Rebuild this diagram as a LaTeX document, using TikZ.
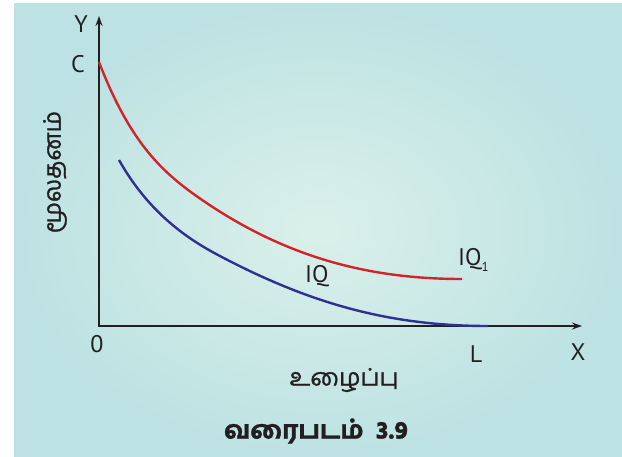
\documentclass[tikz,border=0pt]{standalone}
\usepackage{fontspec}
\setmainfont{PT Sans}
\newfontfamily\tamil[Script=Tamil,FakeBold=1.2]{Hind Madurai}
\newfontfamily\tamilb[Script=Tamil,FakeBold=1]{Hind Madurai Bold}
\usetikzlibrary{arrows.meta}
\definecolor{panelout}{HTML}{BDE2E3}
\definecolor{panelin}{HTML}{DAF0EA}
\definecolor{axisc}{HTML}{231F20}
\definecolor{redc}{HTML}{D2232A}
\definecolor{bluec}{HTML}{2E3192}
\begin{document}
\begin{tikzpicture}[x=1pt,y=-1pt,
  axis/.style={draw=axisc,line width=2.4pt,line join=miter,{Stealth[length=10pt,width=7pt]}-{Stealth[length=10pt,width=7pt]}},
  curve/.style={line width=2.4pt},
  lbl/.style={font=\fontsize{24}{28}\selectfont,text=axisc,inner sep=0pt},
  tlbl/.style={font=\tamil\fontsize{24}{28}\selectfont,text=axisc,inner sep=0pt},
  figcap/.style={font=\tamilb\fontsize{25}{29}\selectfont,text=axisc,inner sep=0pt}]
\useasboundingbox (0,0) rectangle (622,456);
\fill[white] (0,0) rectangle (622,456);
\shade[inner color=panelin, outer color=panelout] (14,3) rectangle (622,456);
% axes
\coordinate (O) at (99,326);
\coordinate (ytip) at (99,16);
\coordinate (xtip) at (582,326);
\draw[axis] (ytip) -- (O) -- (xtip);
% curves
\coordinate (r0) at (99,62);
\coordinate (r1) at (195,195);
\coordinate (r2) at (462,279);
\draw[curve, redc] (r0) .. controls (129,140) and (160,170) .. (r1)
  .. controls (285,259) and (372,279) .. (r2);
\coordinate (b0) at (119,160);
\coordinate (b1) at (218,255);
\coordinate (b2) at (488,326);
\draw[curve, bluec] (b0) .. controls (147,209.6) and (183,236.5) .. (b1)
  .. controls (308,302.7) and (388,326) .. (b2);
% labels
\node[lbl] (Y) at (81,24) {Y};
\node[lbl] (C) at (78,64) {C};
\node[lbl] (zero) at (97,344) {0};
\node[lbl] (L) at (476,354) {L};
\node[lbl] (X) at (578,352) {X};
\node[lbl, anchor=base west] (IQ) at (305,282) {IQ};
\node[lbl, anchor=base west] (IQone) at (458,265) {IQ\raisebox{-6pt}{\fontsize{13}{13}\selectfont 1}};
\node[tlbl, rotate=90] (ylab) at (55,172) {மூலதனம்};
\node[tlbl] (xlab) at (344,380) {உழைப்பு};
\node[figcap] (fig) at (316,431) {வரைபடம்\ \ 3.9};
\end{tikzpicture}
\end{document}
